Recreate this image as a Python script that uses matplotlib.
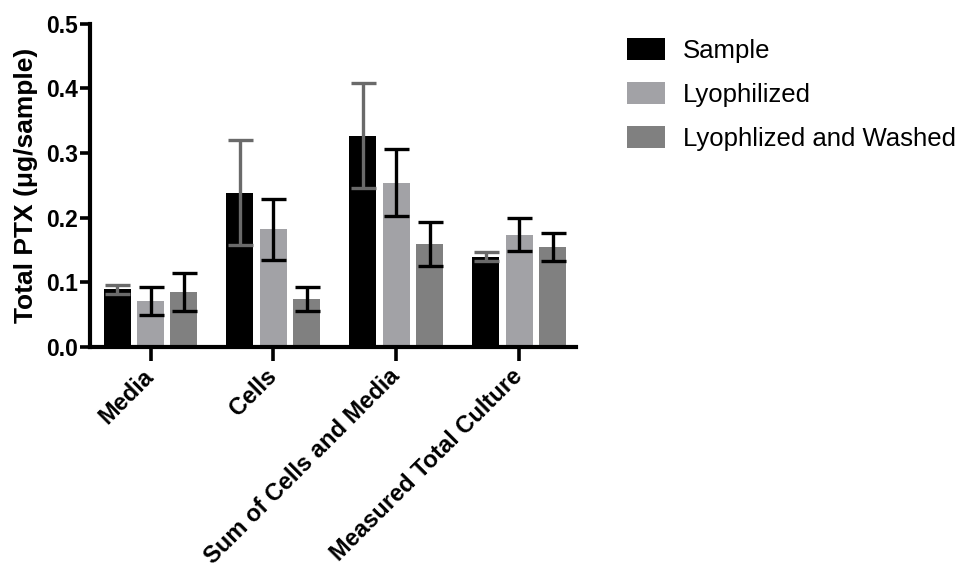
import numpy as np
import matplotlib.pyplot as plt

categories = ["Media", "Cells", "Sum of Cells and Media", "Measured Total Culture"]
series_names = ["Sample", "Lyophilized", "Lyophlized and Washed"]

sample = [0.089, 0.239, 0.327, 0.140]
sample_err = [0.007, 0.081, 0.081, 0.007]
lyophilized = [0.071, 0.182, 0.254, 0.174]
lyophilized_err = [0.022, 0.047, 0.052, 0.025]
washed = [0.085, 0.074, 0.159, 0.155]
washed_err = [0.029, 0.019, 0.034, 0.022]

plt.rcParams['font.family'] = ['Liberation Sans', 'DejaVu Sans']

fig = plt.figure(figsize=(9.61, 5.67), dpi=100)
ax = fig.add_axes([0.094, 0.388, 0.505, 0.570])

x = np.arange(len(categories))
pitch = 0.272
width = 0.22
colors = ["#000000", "#a2a2a6", "#808080"]
err_colors = ["#6a6a6a", "#000000", "#000000"]

for i, (vals, errs) in enumerate([(sample, sample_err),
                                  (lyophilized, lyophilized_err),
                                  (washed, washed_err)]):
    pos = x + (i - 1) * pitch
    ax.bar(pos, vals, width, color=colors[i], label=series_names[i], zorder=2)
    ax.errorbar(pos, vals, yerr=errs, fmt='none', ecolor=err_colors[i],
                elinewidth=2.4, capsize=9, capthick=2.4, zorder=3)

ax.set_xlim(-0.49, 3.46)
ax.set_ylim(0, 0.5)
ax.set_yticks([0.0, 0.1, 0.2, 0.3, 0.4, 0.5])
ax.set_yticklabels(["0.0", "0.1", "0.2", "0.3", "0.4", "0.5"],
                   fontsize=16.5, fontweight='bold')
ax.set_xticks(x)
ax.set_xticklabels(categories, fontsize=17, fontweight='bold', rotation=45,
                   ha='right', va='center', rotation_mode='anchor')
for lbl in ax.get_xticklabels():
    lbl.set_y(-0.02)

ax.set_ylabel("Total PTX (\u03bcg/sample)", fontsize=19, fontweight='bold',
              labelpad=6)

for s in ['top', 'right']:
    ax.spines[s].set_visible(False)
for s in ['left', 'bottom']:
    ax.spines[s].set_linewidth(3)
ax.tick_params(axis='y', width=2.6, length=7, pad=2)
ax.tick_params(axis='x', width=2.6, length=10, pad=4)

# legend sits to the right of the axes, no frame
ax.legend(loc='upper left', bbox_to_anchor=(627 / 961, 1 - 38 / 567),
          bbox_transform=fig.transFigure, borderaxespad=0, borderpad=0,
          frameon=False, fontsize=18.5, handlelength=1.48, handleheight=0.94,
          labelspacing=0.75, handletextpad=0.7)

fig.savefig("out.png", dpi=100)
